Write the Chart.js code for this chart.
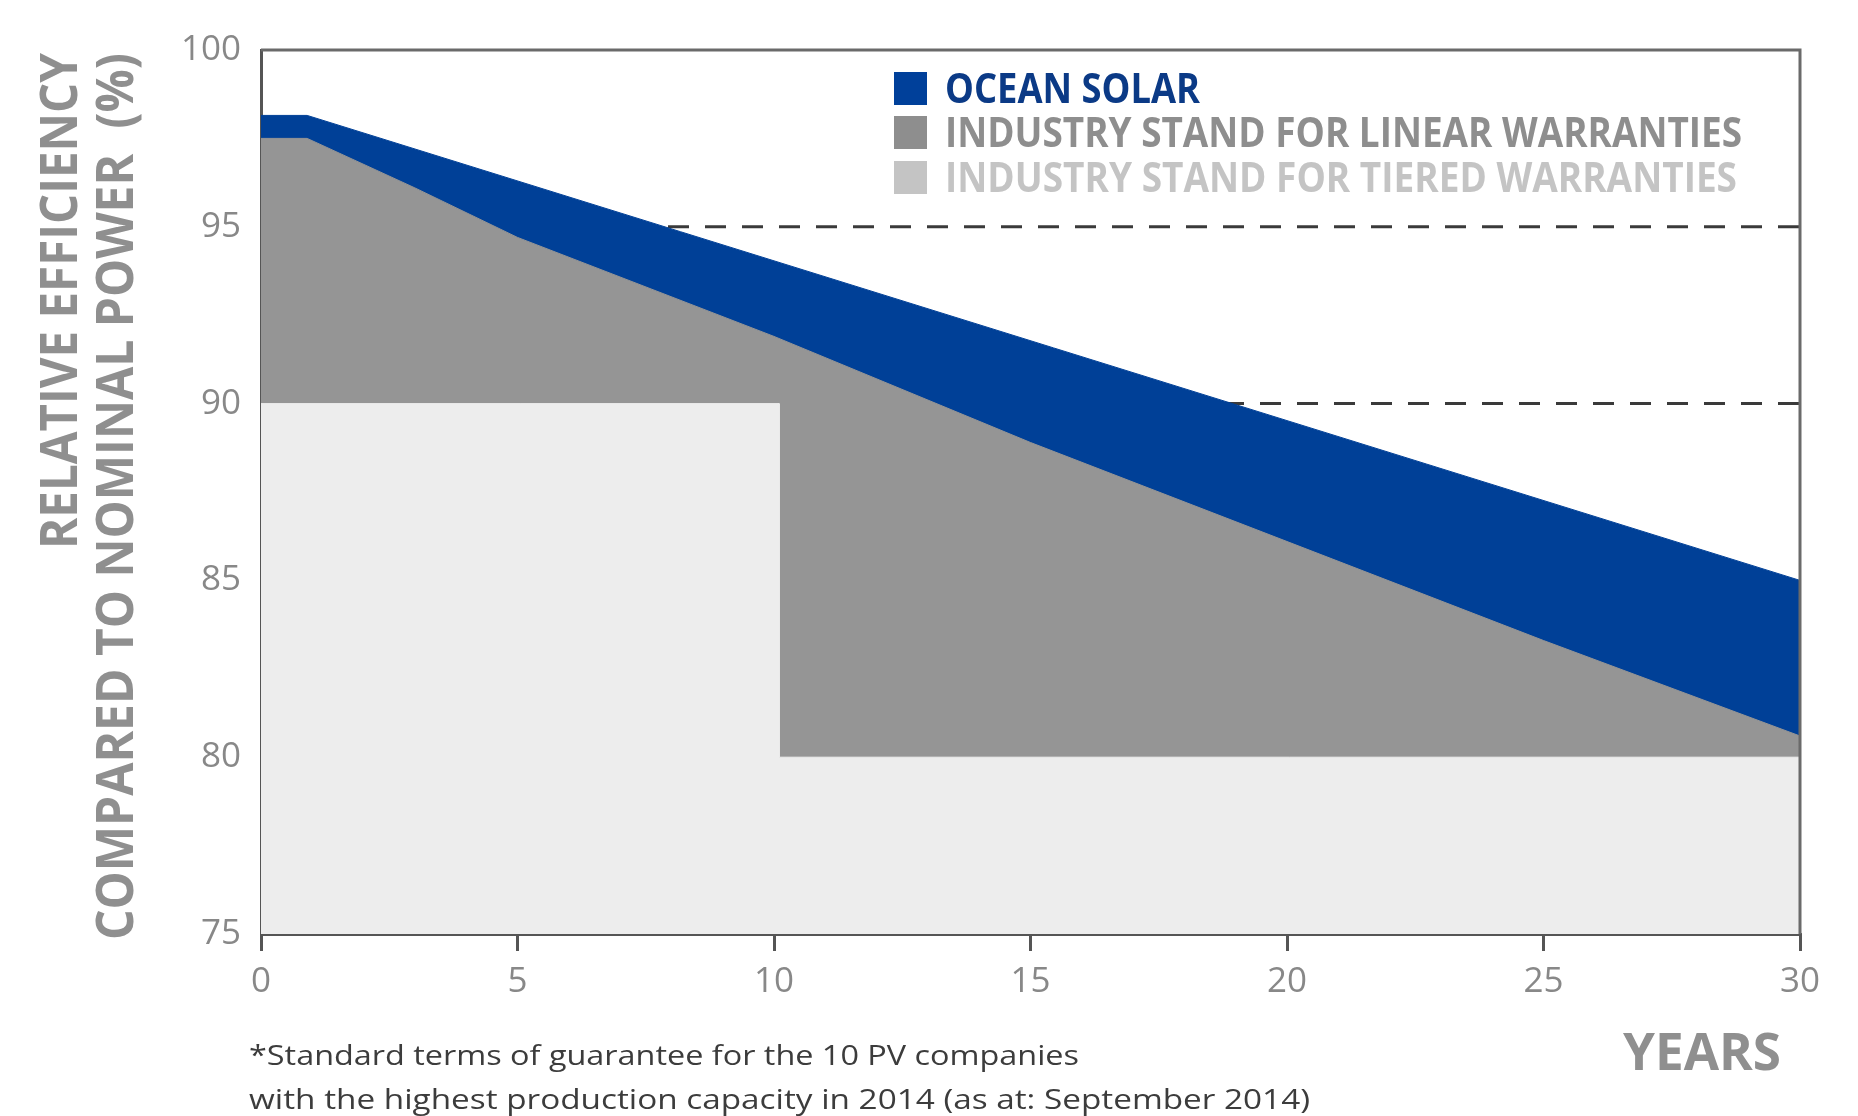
<!DOCTYPE html>
<html>
<head>
<meta charset="utf-8">
<script src="https://cdn.jsdelivr.net/npm/chart.js@4.4.1/dist/chart.umd.min.js"></script>
<style>
  html, body { margin: 0; padding: 0; background: #fff; }
</style>
</head>
<body>
<canvas id="chart" width="1858" height="1116"></canvas>
<script>
// values
var xTicks = [0, 5, 10, 15, 20, 25, 30]
var yTicks = [75, 80, 85, 90, 95, 100]

var oceanYears = [0, 0.9, 30]
var oceanValues = [98.15, 98.15, 85]

var linearYears = [0, 0.9, 3, 5, 10, 15, 20, 25, 30]
var linearValues = [97.5, 97.5, 96.1, 94.7, 91.9, 88.9, 86.1, 83.3, 80.6]

var tieredYears = [0, 10.1, 10.1, 30]
var tieredValues = [90, 90, 80, 80]

var guideLevels = [95, 90]

var seriesLabels = ["OCEAN SOLAR", "INDUSTRY STAND FOR LINEAR WARRANTIES", "INDUSTRY STAND FOR TIERED WARRANTIES"]
var yTitleLines = ["RELATIVE EFFICIENCY", "COMPARED TO NOMINAL POWER  (%)"]
var xTitle = "YEARS"
var footnoteLines = [
  "*Standard terms of guarantee for the 10 PV companies",
  "with the highest production capacity in 2014 (as at: September 2014)"
]

var blue = "#004097"
var grey = "#959595"
var light = "#ededed"
var legendSwatches = ["#00409a", "#8e8e8e", "#c4c4c4"]
var legendText = ["#0b3a86", "#8e8e8e", "#c4c4c4"]

function toPoints(xs, ys) {
  return xs.map(function(x, i) { return { x: x, y: ys[i] } })
}

// draw text squeezed/stretched to a measured width
function fitText(ctx, text, x, y, width, font, color, align, rotate) {
  ctx.save()
  ctx.font = font
  ctx.fillStyle = color
  ctx.textBaseline = "alphabetic"
  ctx.textAlign = align
  var w = ctx.measureText(text).width
  ctx.translate(x, y)
  if (rotate) ctx.rotate(-Math.PI / 2)
  ctx.scale(width / w, 1)
  ctx.fillText(text, 0, 0)
  ctx.restore()
}

var decorations = {
  id: "decorations",
  afterDraw: function(chart) {
    var ctx = chart.ctx
    var area = chart.chartArea

    // top and right frame
    ctx.save()
    ctx.strokeStyle = "#6a6a6a"
    ctx.lineWidth = 3
    ctx.beginPath()
    ctx.moveTo(area.left, area.top)
    ctx.lineTo(area.right, area.top)
    ctx.lineTo(area.right, area.bottom)
    ctx.stroke()
    ctx.restore()

    // legend
    var rows = [72, 116, 161]
    var widths = [255, 797, 792]
    seriesLabels.forEach(function(label, i) {
      ctx.fillStyle = legendSwatches[i]
      ctx.fillRect(894, rows[i], 33, 33)
      fitText(ctx, label, 945, rows[i] + 31, widths[i], "bold 42px 'Open Sans'", legendText[i], "left")
    })

    // y title, rotated
    fitText(ctx, yTitleLines[0], 77, 53, 496, "bold 52px 'Open Sans'", "#8f8f8f", "right", true)
    fitText(ctx, yTitleLines[1], 133, 53, 887, "bold 52px 'Open Sans'", "#8f8f8f", "right", true)

    // x title
    fitText(ctx, xTitle, 1781, 1070, 158, "bold 52px 'Open Sans'", "#8f8f8f", "right")

    // footnote
    fitText(ctx, footnoteLines[0], 249, 1065, 830, "28px 'Open Sans'", "#3c3c3c", "left")
    fitText(ctx, footnoteLines[1], 249, 1109, 1061, "28px 'Open Sans'", "#3c3c3c", "left")
  }
}

var guides = guideLevels.map(function(level) {
  return {
    data: toPoints([0, 30], [level, level]),
    borderColor: "#3a3a3a",
    borderWidth: 3,
    borderDash: [21, 16],
    fill: false,
    order: 4
  }
})

new Chart(document.getElementById("chart"), {
  type: "line",
  data: {
    datasets: guides.concat([
      {
        label: seriesLabels[0],
        data: toPoints(oceanYears, oceanValues),
        borderColor: blue,
        backgroundColor: blue,
        borderWidth: 1,
        fill: "start",
        order: 3
      },
      {
        label: seriesLabels[1],
        data: toPoints(linearYears, linearValues),
        borderColor: grey,
        backgroundColor: grey,
        borderWidth: 1,
        fill: "start",
        order: 2
      },
      {
        label: seriesLabels[2],
        data: toPoints(tieredYears, tieredValues),
        borderColor: light,
        backgroundColor: light,
        borderWidth: 1,
        fill: "start",
        order: 1
      }
    ])
  },
  options: {
    responsive: false,
    animation: false,
    layout: { padding: { left: 0, top: 50, right: 58, bottom: 112 } },
    elements: { point: { radius: 0 }, line: { tension: 0 } },
    plugins: {
      legend: { display: false },
      tooltip: { enabled: false }
    },
    scales: {
      x: {
        type: "linear",
        min: 0,
        max: 30,
        z: 1,
        afterBuildTicks: function(scale) {
          scale.ticks = xTicks.map(function(v) { return { value: v } })
        },
        afterFit: function(scale) { scale.height = 70 },
        grid: { drawOnChartArea: false, drawTicks: true, tickLength: 17, color: "#555", lineWidth: 3 },
        border: { display: true, color: "#555", width: 3 },
        ticks: {
          color: "#888",
          padding: 10,
          maxRotation: 0,
          font: { family: "'Open Sans'", size: 35, weight: 400 }
        }
      },
      y: {
        min: 75,
        max: 100,
        z: 1,
        afterBuildTicks: function(scale) {
          scale.ticks = yTicks.map(function(v) { return { value: v } })
        },
        afterFit: function(scale) { scale.width = 261 },
        grid: { display: false },
        border: { display: true, color: "#555", width: 3 },
        ticks: {
          color: "#888",
          padding: 12,
          font: { family: "'Open Sans'", size: 35, weight: 400 }
        }
      }
    }
  },
  plugins: [decorations]
})
</script>
</body>
</html>
